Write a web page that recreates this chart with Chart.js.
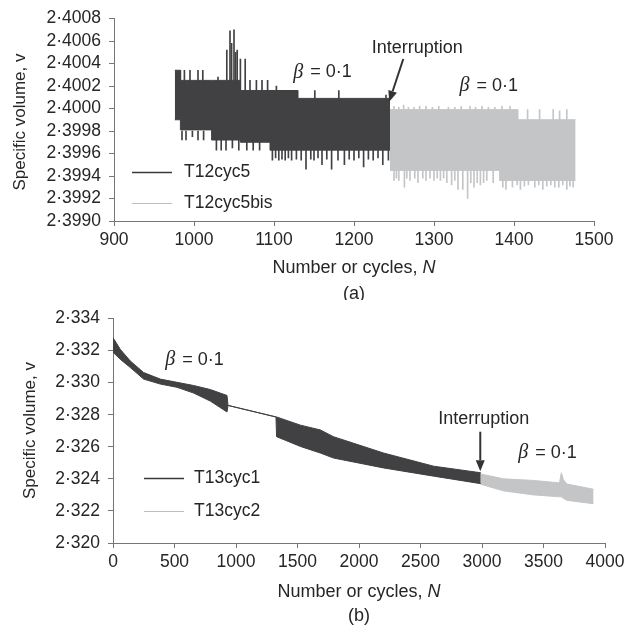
<!DOCTYPE html>
<html>
<head>
<meta charset="utf-8">
<script src="https://cdn.jsdelivr.net/npm/chart.js@4.4.1/dist/chart.umd.min.js"></script>
<style>
  html, body { margin: 0; padding: 0; background: #fff; }
  #wrap { position: relative; width: 636px; height: 630px; }
  canvas { position: absolute; left: 0; }
</style>
</head>
<body>
<div id="wrap">
  <canvas id="chartA" width="636" height="300" style="top:0"></canvas>
  <canvas id="chartB" width="636" height="330" style="top:300px"></canvas>
</div>
<script>
// ---- panel (a): envelope of the oscillation, stepped ----
var aLabels = ['T12cyc5', 'T12cyc5bis'];
var aN = [976, 983, 1022, 1058, 1095, 1130, 1245];
var aTop = [2.40034, 2.40025, 2.40025, 2.40016, 2.40016, 2.40009, 2.40009];
var aBottom = [2.39990, 2.39981, 2.39972, 2.39970, 2.39963, 2.39963, 2.39963];
var aBisN = [1245, 1382, 1405, 1477];
var aBisTop = [2.39999, 2.39999, 2.39990, 2.39990];
var aBisBottom = [2.39945, 2.39936, 2.39936, 2.39936];

// single cycles sticking out of the envelope
var aUpN = [983, 988, 995, 1005, 1011, 1030, 1041, 1045, 1047, 1050, 1052, 1054, 1058, 1064, 1070, 1078, 1085, 1092, 1103, 1112, 1120, 1151, 1181, 1240];
var aUpTip = [2.40034, 2.40034, 2.40034, 2.40034, 2.40034, 2.40028, 2.40052, 2.40069, 2.40058, 2.40070, 2.40050, 2.40052, 2.40044, 2.40044, 2.40025, 2.40025, 2.40025, 2.40025, 2.40020, 2.40016, 2.40016, 2.40016, 2.40016, 2.40012];
var aDownN = [985, 990, 998, 1005, 1012, 1028, 1034, 1040, 1048, 1056, 1066, 1074, 1082, 1098, 1102, 1106, 1110, 1114, 1118, 1122, 1128, 1134, 1140, 1146, 1150, 1155, 1160, 1166, 1172, 1180, 1188, 1194, 1200, 1206, 1212, 1218, 1224, 1230, 1236, 1243];
var aDownTip = [2.39972, 2.39972, 2.39975, 2.39972, 2.39972, 2.39963, 2.39963, 2.39963, 2.39965, 2.39963, 2.39963, 2.39963, 2.39963, 2.39954, 2.39956, 2.39954, 2.39955, 2.39954, 2.39956, 2.39954, 2.39955, 2.39954, 2.39946, 2.39955, 2.39954, 2.39956, 2.39950, 2.39955, 2.39946, 2.39954, 2.39950, 2.39955, 2.39954, 2.39956, 2.39948, 2.39955, 2.39954, 2.39956, 2.39950, 2.39954];
var aBisUpN = [1250, 1256, 1262, 1268, 1275, 1282, 1290, 1298, 1306, 1318, 1326, 1334, 1345, 1352, 1360, 1368, 1376, 1385, 1395, 1417, 1432, 1449, 1457, 1466];
var aBisUpTip = [2.40002, 2.40001, 2.40003, 2.40001, 2.40001, 2.40002, 2.40002, 2.40001, 2.40002, 2.40001, 2.40001, 2.40002, 2.40002, 2.40001, 2.40002, 2.40001, 2.40001, 2.40002, 2.40002, 2.39999, 2.39999, 2.39999, 2.39998, 2.39999];
var aBisDownN = [1250, 1253, 1256, 1263, 1266, 1270, 1276, 1280, 1286, 1290, 1295, 1300, 1304, 1308, 1312, 1316, 1322, 1326, 1330, 1336, 1342, 1346, 1350, 1354, 1358, 1362, 1366, 1374, 1386, 1390, 1398, 1404, 1408, 1413, 1418, 1426, 1431, 1436, 1441, 1446, 1451, 1456, 1461, 1466, 1470, 1474];
var aBisDownTip = [2.39936, 2.39938, 2.39936, 2.39930, 2.39938, 2.39936, 2.39938, 2.39934, 2.39938, 2.39936, 2.39938, 2.39936, 2.39938, 2.39936, 2.39938, 2.39934, 2.39932, 2.39936, 2.39928, 2.39928, 2.39920, 2.39934, 2.39930, 2.39934, 2.39932, 2.39934, 2.39936, 2.39934, 2.39930, 2.39928, 2.39930, 2.39932, 2.39928, 2.39931, 2.39932, 2.39930, 2.39932, 2.39928, 2.39931, 2.39932, 2.39930, 2.39930, 2.39932, 2.39928, 2.39931, 2.39930];

// ---- panel (b) ----
var bLabels = ['T13cyc1', 'T13cyc2'];
var bN = [0, 60, 141, 249, 385, 520, 656, 791, 927, 935, 1325, 1330, 1524, 1686, 1792, 2200, 2607, 2990];
var bTop = [2.33280, 2.33207, 2.33135, 2.33063, 2.33022, 2.33002, 2.32982, 2.32957, 2.32920, 2.32858, 2.32786, 2.32786, 2.32735, 2.32705, 2.32663, 2.32561, 2.32479, 2.32438];
var bBottom = [2.33190, 2.33145, 2.33094, 2.33022, 2.32991, 2.32971, 2.32935, 2.32885, 2.32817, 2.32858, 2.32786, 2.32663, 2.32602, 2.32561, 2.32530, 2.32468, 2.32417, 2.32370];
var bBisN = [2990, 3176, 3420, 3630, 3645, 3662, 3691, 3907];
var bBisTop = [2.32430, 2.32400, 2.32390, 2.32375, 2.32438, 2.32395, 2.32368, 2.32335];
var bBisBottom = [2.32366, 2.32325, 2.32300, 2.32288, 2.32288, 2.32278, 2.32266, 2.32245];

var DARK = '#414143';
var LIGHT = '#c4c5c7';
var TEXT = '#262626';
var AXIS = '#767676';
var SANS = "'Liberation Sans', Arial, sans-serif";

function pts(n, v) {
  return n.map(function(x, i) { return {x: x, y: v[i]}; });
}
function band(n, top, bottom, color, label, stepped) {
  var common = {borderColor: color, backgroundColor: color, borderWidth: 1, pointRadius: 0,
                stepped: stepped, tension: 0};
  return [
    Object.assign({label: label, data: pts(n, top), fill: false}, common),
    Object.assign({label: label + '_lo', data: pts(n, bottom), fill: '-1'}, common)
  ];
}
function spikes(n, base, tips, color) {
  return {type: 'bar', data: n.map(function(x, i) { return {x: x, y: [base, tips[i]]}; }),
          backgroundColor: color, barThickness: 1, grouped: false, borderWidth: 0};
}
function dotFmt(d) {
  return function(v) { return Number(v).toFixed(d).replace('.', '\u00b7'); };
}

// titles, legend, annotations
var decor = {
  id: 'decor',
  afterDraw: function(chart) {
    var o = chart.options.plugins.decor, ctx = chart.ctx, ca = chart.chartArea;
    var xs = chart.scales.x, ys = chart.scales.y;
    ctx.save();
    ctx.fillStyle = TEXT;
    ctx.textBaseline = 'middle';

    // y title
    ctx.save();
    ctx.translate(o.yTitleX, o.yTitleY);
    ctx.rotate(-Math.PI / 2);
    ctx.font = '17px ' + SANS;
    ctx.textAlign = 'center';
    ctx.fillText('Specific volume, v', 0, 0);
    ctx.restore();

    // x title with italic N
    var cx = (ca.left + ca.right) / 2;
    ctx.font = '18px ' + SANS;
    var t1 = 'Number or cycles, ';
    var w1 = ctx.measureText(t1).width;
    ctx.font = 'italic 18px ' + SANS;
    var w2 = ctx.measureText('N').width;
    var x0 = cx - (w1 + w2) / 2;
    ctx.textAlign = 'left';
    ctx.font = '18px ' + SANS;
    ctx.fillText(t1, x0, o.xTitleY);
    ctx.font = 'italic 18px ' + SANS;
    ctx.fillText('N', x0 + w1, o.xTitleY);
    ctx.font = '18px ' + SANS;
    ctx.textAlign = 'center';
    ctx.fillText(o.tag, cx, o.tagY);

    // legend
    o.legend.forEach(function(it, i) {
      var ly = ca.top + o.legendY[i];
      ctx.strokeStyle = it.color;
      ctx.lineWidth = it.width;
      ctx.beginPath();
      ctx.moveTo(ca.left + o.legendX, ly);
      ctx.lineTo(ca.left + o.legendX + 40, ly);
      ctx.stroke();
      ctx.font = '17.5px ' + SANS;
      ctx.textAlign = 'left';
      ctx.fillText(it.text, ca.left + o.legendX + o.legendGap, ly);
    });

    // annotations
    o.notes.forEach(function(a) {
      var px = xs.getPixelForValue(a.n), py = ys.getPixelForValue(a.v);
      if (a.beta) {
        ctx.textAlign = 'left';
        ctx.font = 'italic 20px "Liberation Serif", serif';
        ctx.fillText('\u03b2', px, py);
        var bw = ctx.measureText('\u03b2').width;
        ctx.font = '18px ' + SANS;
        ctx.fillText(' = 0\u00b71', px + bw + 2, py);
      } else {
        ctx.textAlign = 'center';
        ctx.font = '18px ' + SANS;
        ctx.fillText(a.text, px, py);
      }
    });

    // arrow
    var ax0 = xs.getPixelForValue(o.arrow[0]), ay0 = ys.getPixelForValue(o.arrow[1]);
    var ax1 = xs.getPixelForValue(o.arrow[2]), ay1 = ys.getPixelForValue(o.arrow[3]);
    var ang = Math.atan2(ay1 - ay0, ax1 - ax0), hl = 11, hw = 4.5;
    var bx = ax1 - hl * Math.cos(ang), by = ay1 - hl * Math.sin(ang);
    ctx.strokeStyle = '#333';
    ctx.fillStyle = '#333';
    ctx.lineWidth = 2;
    ctx.beginPath();
    ctx.moveTo(ax0, ay0);
    ctx.lineTo(bx, by);
    ctx.stroke();
    ctx.beginPath();
    ctx.moveTo(ax1, ay1);
    ctx.lineTo(bx + hw * Math.sin(ang), by - hw * Math.cos(ang));
    ctx.lineTo(bx - hw * Math.sin(ang), by + hw * Math.cos(ang));
    ctx.closePath();
    ctx.fill();
    ctx.restore();
  }
};

function axes(xmin, xmax, xstep, ymin, ymax, ystep, ydec, yWidth, xHeight) {
  var grid = {display: true, drawOnChartArea: false, drawTicks: true, tickLength: 5,
              color: AXIS, tickColor: AXIS, lineWidth: 1};
  return {
    x: {type: 'linear', min: xmin, max: xmax, offset: false,
        grid: Object.assign({offset: false}, grid),
        border: {display: true, color: AXIS, width: 1},
        ticks: {stepSize: xstep, color: TEXT, padding: 4, autoSkip: false,
                font: {family: SANS, size: 17.5},
                maxRotation: 0, callback: function(v) { return String(v); }},
        afterFit: function(s) { s.height = xHeight; }},
    y: {type: 'linear', min: ymin, max: ymax,
        grid: grid,
        border: {display: true, color: AXIS, width: 1},
        ticks: {stepSize: ystep, color: TEXT, padding: 8, autoSkip: false,
                font: {family: SANS, size: 17.5},
                callback: dotFmt(ydec)},
        afterFit: function(s) { s.width = yWidth; }}
  };
}

var baseOpts = {
  responsive: false, animation: false, events: [],
  plugins: {legend: {display: false}, tooltip: {enabled: false}}
};

new Chart(document.getElementById('chartA'), {
  type: 'line',
  data: {datasets: [].concat(
    band(aN, aTop, aBottom, DARK, aLabels[0], true),
    band(aBisN, aBisTop, aBisBottom, LIGHT, aLabels[1], true),
    [spikes(aUpN, 2.4000, aUpTip, DARK),
     spikes(aDownN, 2.3998, aDownTip, DARK),
     spikes(aBisUpN, 2.3997, aBisUpTip, LIGHT),
     spikes(aBisDownN, 2.3996, aBisDownTip, LIGHT)]
  )},
  options: Object.assign({}, baseOpts, {
    layout: {padding: {top: 15, right: 42, left: 0, bottom: 0}},
    scales: axes(900, 1500, 100, 2.399, 2.4008, 0.0002, 4, 114, 79),
    plugins: Object.assign({}, baseOpts.plugins, {decor: {
      yTitleX: 20.5, yTitleY: 122, xTitleY: 268, tag: '(a)', tagY: 294,
      legendX: 18, legendGap: 52, legendY: [154, 185],
      legend: [{text: aLabels[0], color: '#3a3a3a', width: 1.6},
               {text: aLabels[1], color: '#bdbdbd', width: 1.2}],
      notes: [{beta: true, n: 1124, v: 2.40032},
              {text: 'Interruption', n: 1279, v: 2.40054},
              {beta: true, n: 1332, v: 2.40020}],
      arrow: [1261.6, 2.40044, 1244, 2.40006]
    }})
  }),
  plugins: [decor]
});

new Chart(document.getElementById('chartB'), {
  type: 'line',
  data: {datasets: [].concat(
    band(bN, bTop, bBottom, DARK, bLabels[0], false),
    band(bBisN, bBisTop, bBisBottom, LIGHT, bLabels[1], false)
  )},
  options: Object.assign({}, baseOpts, {
    layout: {padding: {top: 15, right: 31, left: 0, bottom: 0}},
    scales: axes(0, 4000, 500, 2.320, 2.334, 0.002, 3, 113, 87),
    plugins: Object.assign({}, baseOpts.plugins, {decor: {
      yTitleX: 30, yTitleY: 130.5, xTitleY: 292, tag: '(b)', tagY: 316.5,
      legendX: 31, legendGap: 50, legendY: [160, 193],
      legend: [{text: bLabels[0], color: '#3a3a3a', width: 1.6},
               {text: bLabels[1], color: '#bdbdbd', width: 1.2}],
      notes: [{beta: true, n: 425, v: 2.33143},
              {text: 'Interruption', n: 3015, v: 2.32776},
              {beta: true, n: 3295, v: 2.32561}],
      arrow: [2986, 2.32694, 2986, 2.32448]
    }})
  }),
  plugins: [decor]
});
</script>
</body>
</html>
